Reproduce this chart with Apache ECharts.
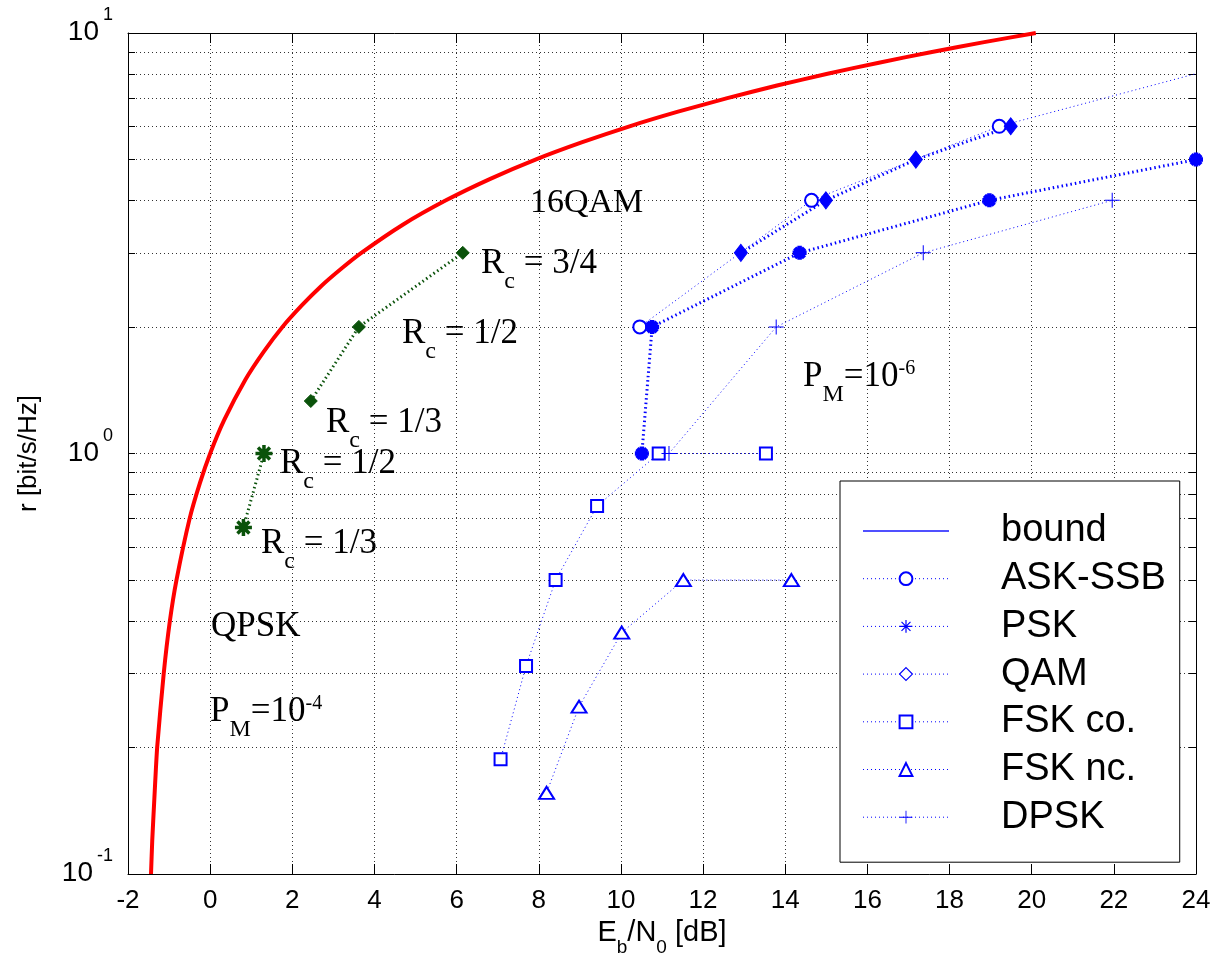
<!DOCTYPE html>
<html><head><meta charset="utf-8">
<script src="https://cdn.jsdelivr.net/npm/echarts@6/dist/echarts.min.js"></script>
<style>html,body{margin:0;padding:0;background:#fff}#c{width:1211px;height:956px}</style>
</head><body><div id="c"></div>
<script>
// ---------- data ----------
const boundEbN0 = [-1.44,-1.41,-1.36,-1.29,-1.13,-0.98,-0.82,-0.50,-0.25,0,0.34,0.86,1.31,1.76,2.23,2.70,3.19,3.68,4.69,5.74,6.82,7.92,9.06,10.21,11.39,12.59,13.80,15.03,16.28,17.54,18.81,20.10];
const boundR    = [0.1,0.12,0.15,0.2,0.3,0.4,0.5,0.7,0.85,1,1.2,1.5,1.75,2,2.25,2.5,2.75,3,3.5,4,4.5,5,5.5,6,6.5,7,7.5,8,8.5,9,9.5,10];
const askEbN0   = [10.46,14.64,19.21,24.2];
const askR      = [2,4,6,8.1];
const pskEbN0   = [10.51,10.76,14.35,18.97,24.0];
const pskR      = [1,2,3,4,5];
const qamEbN0   = [12.92,14.99,17.18,19.49];
const qamR      = [3,4,5,6];
const fskCoEbN0 = [13.53,10.92,9.42,8.41,7.69,7.07];
const fskCoR    = [1,1,0.75,0.5,0.3125,0.1875];
const fskNcEbN0 = [14.15,11.52,10.02,8.98,8.19];
const fskNcR    = [0.5,0.5,0.375,0.25,0.156];
const dpskEbN0  = [11.17,13.78,17.36,21.96];
const dpskR     = [1,2,3,4];
const codedQamEbN0 = [2.45,3.62,6.15];
const codedQamR    = [1.333,2,3];
const codedPskEbN0 = [0.81,1.31];
const codedPskR    = [0.667,1];
const legendNames  = ['bound','ASK-SSB','PSK','QAM','FSK co.','FSK nc.','DPSK'];
const xMin = -2, xMax = 24, xStep = 2;
const yMin = 0.1, yMax = 10;

// ---------- styling ----------
const SANS = "'Liberation Sans', Arial, sans-serif";
const SERIF = "'Liberation Serif', 'Times New Roman', serif";
const BLUE = '#0000ff', GREEN = '#0a520a', RED = '#ff0000';
const GRID = {color:'#333', width:1, type:[1,3]};
const THIN = {color:BLUE, width:1, type:[1,3]};
const BOLD = {color:BLUE, width:3, type:[1.5,3]};
const ASTER = 'path://M5,0 L5,10 M0,5 L10,5 M1.5,1.5 L8.5,8.5 M8.5,1.5 L1.5,8.5';
const PLUS = 'path://M7,0 H8 V7 H15 V8 H8 V15 H7 V8 H0 V7 H7 Z';

const pairs = (xs, ys) => xs.map((x, i) => [x, ys[i]]);
const base = {type:'line', xAxisIndex:0, yAxisIndex:0, animation:false, clip:true,
  showAllSymbol:true, emphasis:{disabled:true}, silent:true};

const series = [
  Object.assign({}, base, {name:'bound', data:pairs(boundEbN0, boundR), smooth:0.2, symbol:'none',
    lineStyle:{color:RED, width:4}, itemStyle:{color:RED}}),
  Object.assign({}, base, {name:'ASK-SSB', data:pairs(askEbN0, askR), symbol:'emptyCircle', symbolSize:13,
    lineStyle:THIN, itemStyle:{color:BLUE, borderColor:BLUE, borderWidth:1.2}}),
  Object.assign({}, base, {name:'PSK', data:pairs(pskEbN0, pskR), symbol:ASTER, symbolSize:14,
    lineStyle:BOLD, itemStyle:{color:BLUE, borderColor:BLUE, borderWidth:4.5}}),
  Object.assign({}, base, {name:'QAM', data:pairs(qamEbN0, qamR), symbol:'diamond', symbolSize:[13,17],
    lineStyle:BOLD, itemStyle:{color:BLUE, borderColor:BLUE, borderWidth:1}}),
  Object.assign({}, base, {name:'FSK co.', data:pairs(fskCoEbN0, fskCoR), symbol:'emptyRect', symbolSize:12,
    lineStyle:THIN, itemStyle:{color:BLUE, borderColor:BLUE, borderWidth:1.2}}),
  Object.assign({}, base, {name:'FSK nc.', data:pairs(fskNcEbN0, fskNcR), symbol:'emptyTriangle', symbolSize:[15,12],
    lineStyle:THIN, itemStyle:{color:BLUE, borderColor:BLUE, borderWidth:1.2}}),
  Object.assign({}, base, {name:'DPSK', data:pairs(dpskEbN0, dpskR), symbol:PLUS, symbolSize:15,
    lineStyle:THIN, itemStyle:{color:BLUE}}),
  Object.assign({}, base, {name:'coded QAM', data:pairs(codedQamEbN0, codedQamR), symbol:'diamond', symbolSize:13,
    lineStyle:{color:GREEN, width:3, type:[1.5,3]}, itemStyle:{color:GREEN, borderColor:GREEN, borderWidth:1}}),
  Object.assign({}, base, {name:'coded QPSK', data:pairs(codedPskEbN0, codedPskR), symbol:ASTER, symbolSize:17,
    lineStyle:{color:GREEN, width:3, type:[1.5,3]}, itemStyle:{color:GREEN, borderColor:GREEN, borderWidth:3.5}})
];

const legendData = legendNames.map(n => {
  if (n === 'bound') return {name:n, lineStyle:{color:'#5050ff', width:2, type:'solid'},
    itemStyle:{color:'rgba(0,0,0,0)', borderColor:'rgba(0,0,0,0)', opacity:0}};
  if (n === 'QAM') return {name:n, lineStyle:{color:BLUE, width:1, type:[1,3]},
    itemStyle:{color:'#fff', borderColor:BLUE, borderWidth:1.2}};
  return {name:n, lineStyle:{color:BLUE, width:1, type:[1,3]}, itemStyle:{borderWidth:1.2}};
});

// ---------- annotation text ----------
const annRich = {
  m:{fontSize:35, lineHeight:35, padding:[8,0,0,0], verticalAlign:'top', fontFamily:SERIF, color:'#000'},
  q:{fontSize:34, lineHeight:35, padding:[8,0,0,0], verticalAlign:'top', fontFamily:SERIF, color:'#000'},
  b:{fontSize:24, lineHeight:24, padding:[32,0,0,0], verticalAlign:'top', fontFamily:SERIF, color:'#000'},
  s:{fontSize:20, lineHeight:20, padding:[8,0,0,0], verticalAlign:'top', fontFamily:SERIF, color:'#000'}
};
const annotations = [
  {text:'{q|16QAM}', left:530, top:178},
  {text:'{m|R}{b|c}{m| = 3/4}', left:481, top:238},
  {text:'{m|R}{b|c}{m| = 1/2}', left:402, top:308},
  {text:'{m|R}{b|c}{m| = 1/3}', left:326, top:397},
  {text:'{m|R}{b|c}{m| = 1/2}', left:280, top:438},
  {text:'{m|R}{b|c}{m| = 1/3}', left:261, top:518},
  {text:'{m|QPSK}', left:211, top:601},
  {text:'{m|P}{b|M}{m|=10}{s|-4}', left:210, top:686},
  {text:'{m|P}{b|M}{m|=10}{s|-6}', left:803, top:351}
];

const option = {
  backgroundColor:'#fff',
  animation:false,
  grid:{left:128, right:15, top:33, bottom:82, outerBoundsMode:'none', containLabel:false},
  legend:{
    orient:'vertical', left:840, top:481, padding:[31,14,26,22],
    backgroundColor:'#fff', borderColor:'#000', borderWidth:1, borderRadius:0,
    itemWidth:86, itemHeight:16, itemGap:9.7, selectedMode:false,
    textStyle:{fontSize:38, color:'#000', fontFamily:SANS, padding:[0,0,0,47]},
    data:legendData
  },
  xAxis:[
    {type:'value', min:xMin, max:xMax, interval:xStep, position:'bottom',
      axisLine:{show:true, onZero:false, lineStyle:{color:'#000', width:1}},
      axisTick:{show:true, inside:true, length:10, lineStyle:{color:'#000'}},
      splitLine:{show:true, lineStyle:GRID},
      axisLabel:{fontSize:26, color:'#000', fontFamily:SANS, margin:14, showMinLabel:true, showMaxLabel:true},
      name:'{m|E}{s|b}{m|/N}{s|0}{m| [dB]}', nameLocation:'middle', nameGap:40,
      nameTextStyle:{fontSize:29, fontFamily:SANS, color:'#000', rich:{
        m:{fontSize:29, lineHeight:29, verticalAlign:'top', fontFamily:SANS, color:'#000'},
        s:{fontSize:19, lineHeight:19, padding:[19,0,0,0], verticalAlign:'top', fontFamily:SANS, color:'#000'}}}},
    {type:'value', min:xMin, max:xMax, interval:xStep, position:'top',
      axisLine:{show:true, onZero:false, lineStyle:{color:'#000', width:1}},
      axisTick:{show:true, inside:true, length:10, lineStyle:{color:'#000'}},
      splitLine:{show:false}, axisLabel:{show:false}}
  ],
  yAxis:[
    {type:'log', logBase:10, min:yMin, max:yMax, position:'left',
      axisLine:{show:true, onZero:false, lineStyle:{color:'#000', width:1}},
      axisTick:{show:true, inside:true, length:7, lineStyle:{color:'#000'}},
      minorTick:{show:true, splitNumber:9, length:7, lineStyle:{color:'#000'}},
      splitLine:{show:true, lineStyle:GRID},
      minorSplitLine:{show:true, lineStyle:GRID},
      axisLabel:{margin:15, padding:[0,0,25,0], fontSize:28, fontFamily:SANS, color:'#000',
        formatter:v => '{b|10}{s|' + Math.round(Math.log10(v)) + '}',
        rich:{
          b:{fontSize:28, lineHeight:28, padding:[12,0,0,0], verticalAlign:'top', fontFamily:SANS, color:'#000'},
          s:{fontSize:18, lineHeight:18, padding:[0,0,0,4], verticalAlign:'top', fontFamily:SANS, color:'#000'}}},
      name:'r [bit/s/Hz]', nameLocation:'middle', nameGap:86, nameRotate:90,
      nameTextStyle:{fontSize:26, color:'#000', fontFamily:SANS}},
    {type:'log', logBase:10, min:yMin, max:yMax, position:'right',
      axisLine:{show:true, onZero:false, lineStyle:{color:'#000', width:1}},
      axisTick:{show:true, inside:true, length:7, lineStyle:{color:'#000'}},
      minorTick:{show:true, splitNumber:9, length:7, lineStyle:{color:'#000'}},
      splitLine:{show:false}, axisLabel:{show:false}}
  ],
  series:series,
  graphic:{elements:annotations.map(a => ({type:'text', left:a.left, top:a.top, z:100, silent:true,
    style:{text:a.text, rich:annRich, fill:'#000'}}))}
};

const chart = echarts.init(document.getElementById('c'), null, {renderer:'canvas'});
chart.setOption(option);
</script>
</body></html>
